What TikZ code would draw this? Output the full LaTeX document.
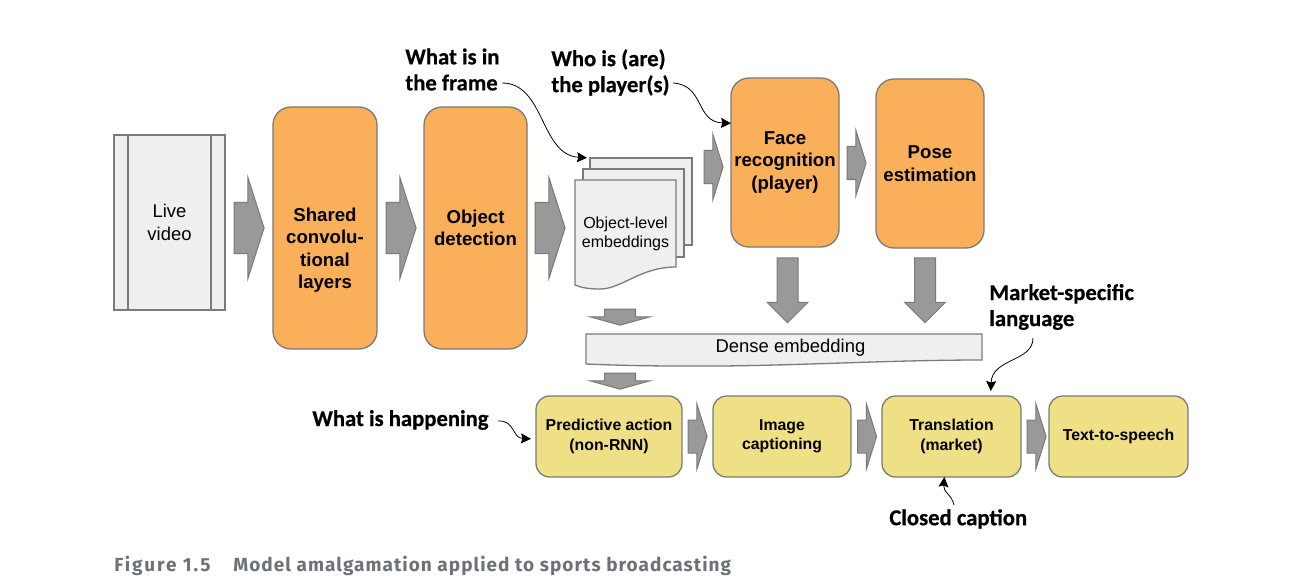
\documentclass[tikz,border=0pt]{standalone}
\usepackage{fontspec}
\setmainfont{Liberation Sans}
\newfontfamily\notefont{Carlito}[BoldFeatures={FakeBold=0.6}]
\newfontfamily\captionfont{Fira Sans}[LetterSpace=5.5]
\newfontfamily\figurefont{Fira Sans}[LetterSpace=10]
\usetikzlibrary{shapes.arrows,arrows.meta}
\definecolor{stagefill}{HTML}{FAB05A}
\definecolor{outputfill}{HTML}{EFDF85}
\definecolor{paperfill}{HTML}{EEF0EF}
\definecolor{arrowfill}{HTML}{999999}
\definecolor{edgeline}{HTML}{7A7A7A}
\definecolor{captiongray}{HTML}{6D7278}
\tikzset{
  paperbox/.style={draw=edgeline,fill=paperfill,line width=0.026cm},
  stagebox/.style={paperbox,fill=stagefill,rounded corners=0.36cm,inner sep=0,outer sep=0,align=center,
    font=\fontsize{10.6}{12.8}\selectfont\bfseries},
  outputbox/.style={paperbox,fill=outputfill,rounded corners=0.27cm,inner sep=0,outer sep=0,align=center,
    minimum height=1.62cm,font=\fontsize{9}{11}\selectfont\bfseries},
  notelabel/.style={anchor=west,align=left,inner sep=0,font=\fontsize{12.9}{14.8}\notefont\bfseries},
  noteline/.style={line width=0.016cm,-{Stealth[length=0.2cm,width=0.2cm,inset=0.03cm]}},
  bigarrow/.style={single arrow,draw=edgeline,fill=arrowfill,line width=0.02cm,outer sep=0,
    inner xsep=0,inner ysep=0.50cm,minimum height=0.60cm,single arrow head extend=0.50cm,single arrow tip angle=144.5},
  midarrow/.style={bigarrow,inner ysep=0.32cm,minimum height=0.38cm,single arrow head extend=0.32cm,
    single arrow tip angle=145.3},
  downarrow/.style={bigarrow,shape border rotate=270,inner xsep=0.20cm,inner ysep=0,minimum height=1.30cm,
    single arrow head extend=0.20cm,single arrow tip angle=90},
  flatarrow/.style={bigarrow,shape border rotate=270,inner xsep=0.30cm,inner ysep=0,minimum height=0.32cm,
    single arrow head extend=0.28cm,single arrow tip angle=149},
}
\begin{document}
\begin{tikzpicture}
\useasboundingbox (0,0) rectangle (25.860,11.740);

% Live video strip
\node (liveVideo) [paperbox,inner sep=0,outer sep=0,minimum width=2.22cm,minimum height=3.50cm,align=center,
  font=\fontsize{10.5}{12.9}\selectfont] at (3.390,7.290) {Live\\video};%
\draw [edgeline,line width=0.026cm] ([xshift=0.28cm]liveVideo.north west) -- ([xshift=0.28cm]liveVideo.south west);%
\draw [edgeline,line width=0.026cm] ([xshift=-0.28cm]liveVideo.north east) -- ([xshift=-0.28cm]liveVideo.south east);%

% Orange stages
\node (sharedLayers) [stagebox,minimum width=2.08cm,minimum height=4.84cm] at (6.500,7.180) {\mbox{}\\\mbox{}\\[7.4pt]Shared\\convolu-\\tional\\layers};%
\node (objectDetection) [stagebox,minimum width=2.06cm,minimum height=4.84cm] at (9.510,7.180) {Object\\detection};%
\node (faceRecognition) [stagebox,minimum width=2.16cm,minimum height=3.38cm] at (15.700,8.490) {Face\\recognition\\(player)};%
\node (poseEstimation) [stagebox,minimum width=2.16cm,minimum height=3.38cm] at (18.600,8.470) {Pose\\estimation};%

% Stack of object pages
\node (backPage) [paperbox,outer sep=0,minimum width=2.04cm,minimum height=1.74cm] at (12.820,7.710) {};%
\node (middlePage) [paperbox,outer sep=0,minimum width=2.02cm,minimum height=1.76cm] at (12.670,7.480) {};%
\draw [paperbox] (11.500,8.140) -- (13.520,8.140) -- (13.520,6.400)
  .. controls (12.800,6.400) and (12.440,5.960) .. (12.000,5.960)
  .. controls (11.800,5.960) and (11.640,5.980) .. (11.500,6.040) -- cycle;%
\node (objectPage) [align=center,inner sep=0,font=\fontsize{9.1}{11}\selectfont] at (12.510,7.065) {Object-level\\embeddings};%

% Dense embedding band
\draw [paperbox] (11.720,5.060) -- (19.640,5.060) -- (19.640,4.540)
  .. controls (17.600,4.540) and (15.600,4.400) .. (13.600,4.420)
  .. controls (12.800,4.420) and (12.200,4.440) .. (11.720,4.460) -- cycle;%
\node (denseEmbedding) [inner sep=0,font=\fontsize{10.5}{12}\selectfont] at (15.810,4.776) {Dense embedding};%

% Yellow outputs
\node (predictiveAction) [outputbox,minimum width=2.92cm] at (12.180,3.010) {Predictive action\\(non-RNN)};%
\node (imageCaptioning) [outputbox,minimum width=2.76cm] at (15.640,3.010) {Image\\captioning};%
\node (translationBox) [outputbox,minimum width=2.78cm] at (19.030,3.010) {Translation\\(market)};%
\node (textToSpeech) [outputbox,minimum width=2.78cm] at (22.370,3.010) {Text-to-speech};%

% Block arrows
\node (arrowA) [bigarrow] at (4.900,7.180) {};%
\node (arrowB) [bigarrow] at (7.940,7.180) {};%
\node (arrowC) [bigarrow] at (10.920,7.180) {};%
\node (arrowD) [midarrow] at (14.220,8.400) {};%
\node (arrowE) [midarrow] at (17.080,8.480) {};%
\node (arrowF) [midarrow] at (13.900,3.010) {};%
\node (arrowG) [midarrow] at (17.290,3.010) {};%
\node (arrowH) [midarrow] at (20.680,3.010) {};%
\node (arrowJ) [downarrow] at (15.750,6.040) {};%
\node (arrowK) [downarrow] at (18.500,6.040) {};%
\node (arrowL) [flatarrow] at (12.400,5.440) {};%
\node (arrowM) [flatarrow] at (12.400,4.160) {};%

% Callout labels
\node (frameNote) [notelabel] at (8.100,10.350) {What is in\\the frame};%
\node (playerNote) [notelabel] at (11.020,10.290) {Who is (are)\\the player(s)};%
\node (happeningNote) [notelabel] at (6.240,3.340) {What is happening};%
\node (marketNote) [notelabel] at (19.780,5.600) {Market-specific\\language};%
\node (closedNote) [notelabel] at (17.780,1.360) {Closed caption};%

% Callout lines
\coordinate (frameStart) at (10.040,10.080);%
\coordinate (playerStart) at (13.460,10.080);%
\coordinate (happeningStart) at (9.960,3.320);%
\coordinate (marketStart) at (20.660,4.980);%
\coordinate (closedStart) at (19.080,1.640);%
\draw [noteline,shorten >=0.06cm] (frameStart) .. controls (10.900,10.080) and (10.800,8.640) .. (backPage.north west);%
\draw [noteline] (playerStart) .. controls (14.100,10.040) and (13.900,9.300) .. (faceRecognition.144.5);%
\draw [noteline,shorten >=0.10cm] (happeningStart) .. controls (10.300,3.340) and (10.240,2.980) .. (predictiveAction.182.6);%
\draw [noteline,shorten >=0.10cm] (marketStart) .. controls (20.660,4.500) and (19.840,4.580) .. (translationBox.46.4);%
\draw [noteline] (closedStart) .. controls (19.040,1.840) and (18.860,1.900) .. (translationBox.260.9);%

% Figure caption
\node (figureNumber) [anchor=base west,inner sep=0,text=captiongray,font=\fontsize{10.8}{13}\figurefont\bfseries] at (2.280,0.320) {Figure 1.5};%
\node (figureTitle) [anchor=base west,inner sep=0,text=captiongray,font=\fontsize{10.8}{13}\captionfont\bfseries] at (4.660,0.320) {Model amalgamation applied to sports broadcasting};%
\end{tikzpicture}
\end{document}
